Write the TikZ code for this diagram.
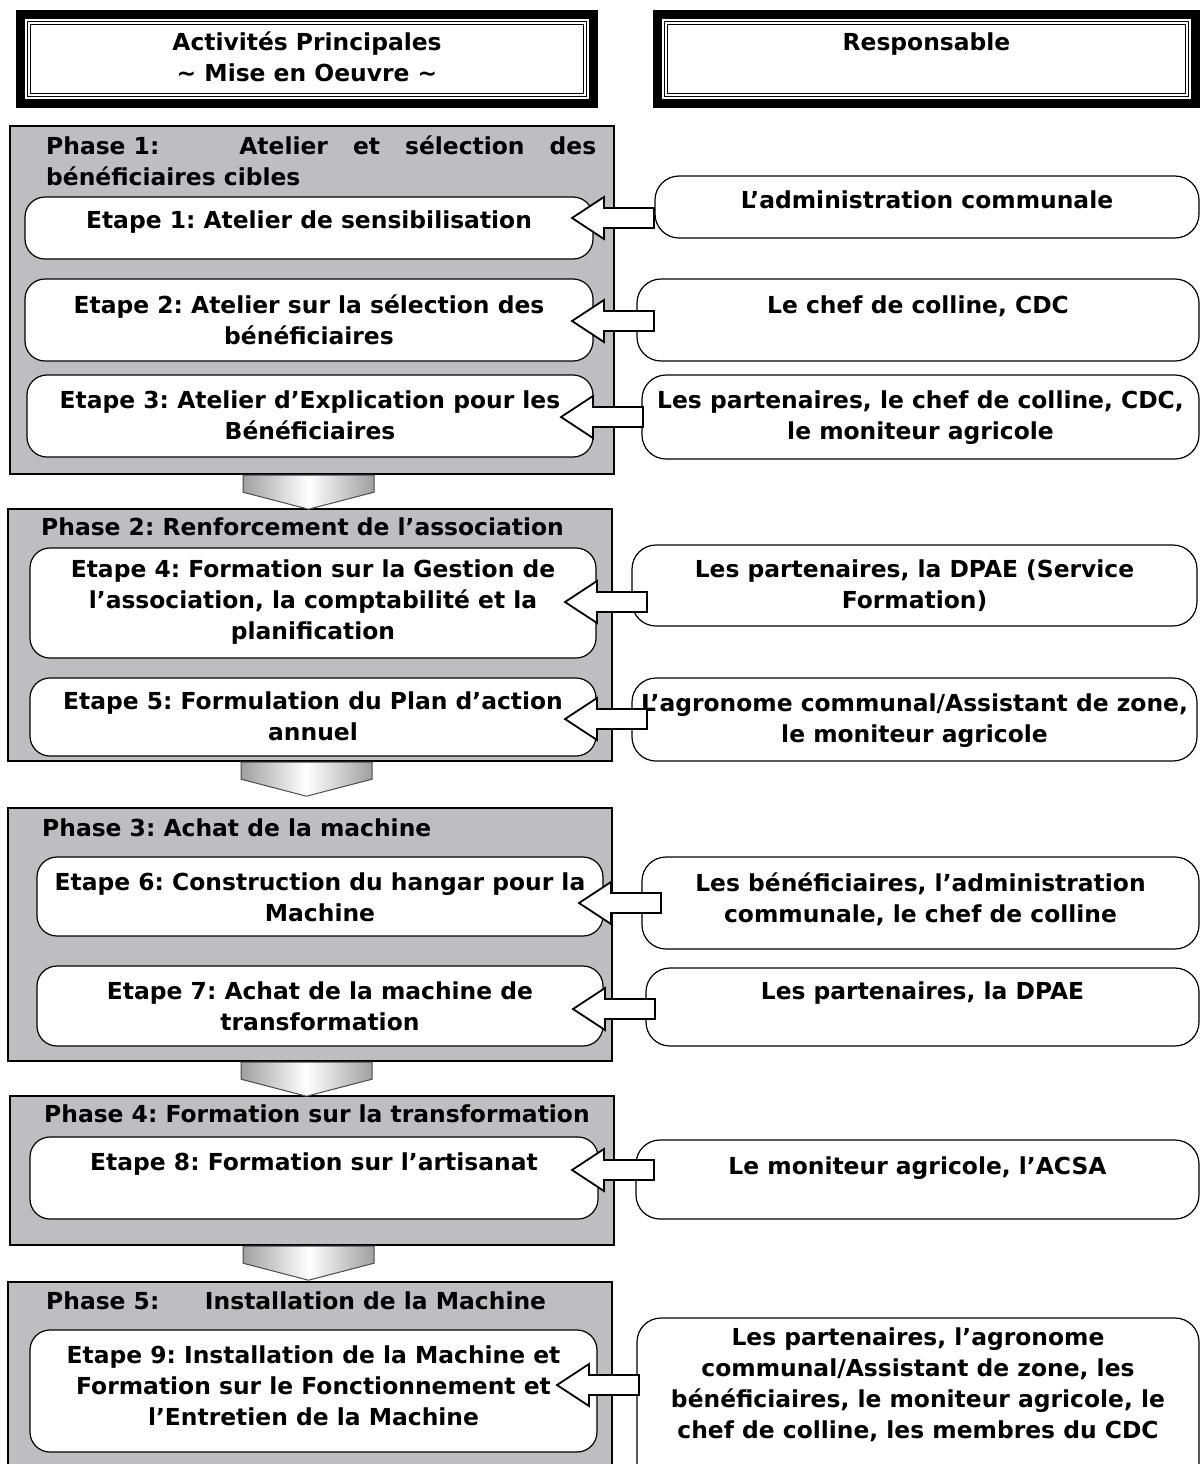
\documentclass[tikz,border=0pt]{standalone}
\usepackage{fontspec}
\setmainfont{DejaVu Sans}
\frenchspacing
\usetikzlibrary{fit,positioning,calc}
\definecolor{fond}{RGB}{190,190,192}
\newcommand{\lig}[1]{\begin{tabular}[t]{@{}c@{}}#1\end{tabular}}
\newcommand{\ligg}[1]{\begin{tabular}[t]{@{}l@{}}#1\end{tabular}}
\newcommand{\fleche}[1]{\draw[bloc] (#1) -- ++(32,-21) -- ++(0,11) -- ++(50,0) -- ++(0,20) -- ++(-50,0) -- ++(0,11) -- cycle;}
\newcommand{\chevron}[1]{\path[chev] ([xshift=-34.5pt]#1.south) -- ++(0,17) -- ++(65.5,17) -- ++(65.5,-17) -- ++(0,-17) -- cycle;}
\tikzset{
  entete/.style={draw, line width=4.5pt, inner sep=0pt},
  filet/.style={double, double distance=1.1pt, line width=0.6pt},
  phase/.style={draw, fill=fond, line width=1.2pt, inner sep=0pt},
  etape/.style={draw, fill=white, rounded corners=10pt, line width=0.6pt, inner sep=0pt},
  resp/.style={draw, fill=white, rounded corners=12pt, line width=0.6pt, inner sep=0pt},
  txt/.style={font=\fontsize{11.7}{15.5}\selectfont\bfseries, inner sep=0pt, anchor=base},
  titre/.style={font=\fontsize{11.7}{15.5}\selectfont\bfseries, inner sep=0pt, anchor=base west},
  bloc/.style={draw, fill=white, line width=0.9pt, line join=miter},
  chev/.style={draw=gray!60!black, line width=0.5pt, left color=gray!75, right color=gray!75, middle color=white},
}
\begin{document}
\begin{tikzpicture}[x=0.5pt, y=-0.5pt]
  \useasboundingbox (0,0) rectangle (1200,1464);
  % en-tetes
  \node[entete, fit={(20.5,14.5) (593.5,103.5)}] (h1) {};
  \node[entete, fit={(657.5,14.5) (1195.5,103.5)}] (h2) {};
  \foreach \h in {h1,h2}
    \draw[filet] ([shift={(13,13)}]\h.north west) rectangle ([shift={(-13,-13)}]\h.south east);
  \node[txt] (h1t) at ([yshift=-20.25pt]h1.north) {\lig{Activités Principales\\\textasciitilde{} Mise en Oeuvre \textasciitilde}};
  \node[txt] (h2t) at ([yshift=-20.25pt]h2.north) {Responsable};

  % phases
  \node[phase, fit={(10,126) (614,474)}] (p1) {};
  \node[phase, fit={(8,509) (612,761)}] (p2) {};
  \node[phase, fit={(8,808) (612,1061)}] (p3) {};
  \node[phase, fit={(10,1096) (614,1245)}] (p4) {};
  \node[phase, fit={(8,1282) (612,1480)}] (p5) {};
  \node[titre] (p1t) at ([xshift=18.5pt,yshift=-14.75pt]p1.north west) {\ligg{\makebox[275pt][s]{\mbox{Phase 1:}\hspace{40pt}Atelier et sélection des}\\bénéficiaires cibles}};
  \node[titre] (p2t) at ([xshift=17pt,yshift=-13.75pt]p2.north west) {Phase 2: Renforcement de l’association};
  \node[titre] (p3t) at ([xshift=17.5pt,yshift=-14.8pt]p3.north west) {Phase 3: Achat de la machine};
  \node[titre] (p4t) at ([xshift=17.5pt,yshift=-13.8pt]p4.north west) {Phase 4: Formation sur la transformation};
  \node[titre] (p5t) at ([xshift=19.5pt,yshift=-14.3pt]p5.north west) {Phase 5:\hspace{1.6em} Installation de la Machine};

  % etapes
  \node[etape, fit={(25,197) (593,259)}] (e1) {};
  \node[etape, fit={(25,279) (593,361)}] (e2) {};
  \node[etape, fit={(27,375) (593,457)}] (e3) {};
  \node[etape, fit={(30,548) (596,658)}] (e4) {};
  \node[etape, fit={(30,678) (596,756)}] (e5) {};
  \node[etape, fit={(37,857) (603,936)}] (e6) {};
  \node[etape, fit={(37,966) (603,1046)}] (e7) {};
  \node[etape, fit={(30,1137) (598,1219)}] (e8) {};
  \node[etape, fit={(30,1330) (597,1452)}] (e9) {};
  \node[txt] (e1t) at ([yshift=-15.8pt]e1.north) {Etape 1: Atelier de sensibilisation};
  \node[txt] (e2t) at ([yshift=-17.3pt]e2.north) {\lig{Etape 2: Atelier sur la sélection des\\bénéficiaires}};
  \node[txt] (e3t) at ([yshift=-16.8pt]e3.north) {\lig{Etape 3: Atelier d’Explication pour les\\Bénéficiaires}};
  \node[txt] (e4t) at ([yshift=-14.8pt]e4.north) {\lig{Etape 4: Formation sur la Gestion de\\l’association, la comptabilité et la\\planification}};
  \node[txt] (e5t) at ([yshift=-15.8pt]e5.north) {\lig{Etape 5: Formulation du Plan d’action\\annuel}};
  \node[txt] (e6t) at ([yshift=-16.8pt]e6.north) {\lig{Etape 6: Construction du hangar pour la\\Machine}};
  \node[txt] (e7t) at ([yshift=-16.8pt]e7.north) {\lig{Etape 7: Achat de la machine de\\transformation}};
  \node[txt] (e8t) at ([yshift=-16.8pt]e8.north) {Etape 8: Formation sur l’artisanat};
  \node[txt] (e9t) at ([yshift=-16.8pt]e9.north) {\lig{Etape 9: Installation de la Machine et\\Formation sur le Fonctionnement et\\l’Entretien de la Machine}};

  % responsables
  \node[resp, fit={(655,176) (1199,238)}] (r1) {};
  \node[resp, fit={(637,279) (1199,361)}] (r2) {};
  \node[resp, fit={(642,375) (1199,459)}] (r3) {};
  \node[resp, fit={(632,545) (1197,626)}] (r4) {};
  \node[resp, fit={(632,678) (1197,761)}] (r5) {};
  \node[resp, fit={(642,857) (1199,949)}] (r6) {};
  \node[resp, fit={(646,968) (1199,1046)}] (r7) {};
  \node[resp, fit={(636,1140) (1199,1219)}] (r8) {};
  \node[resp, fit={(637,1318) (1199,1490)}] (r9) {};
  \node[txt] (r1t) at ([yshift=-16.3pt]r1.north) {L’administration communale};
  \node[txt] (r2t) at ([yshift=-17.3pt]r2.north) {Le chef de colline, CDC};
  \node[txt] (r3t) at ([yshift=-16.8pt]r3.north) {\lig{Les partenaires, le chef de colline, CDC,\\le moniteur agricole}};
  \node[txt] (r4t) at ([yshift=-16.3pt]r4.north) {\lig{Les partenaires, la DPAE (Service\\Formation)}};
  \node[txt] (r5t) at ([yshift=-16.8pt]r5.north) {\lig{L’agronome communal/Assistant de zone,\\le moniteur agricole}};
  \node[txt] (r6t) at ([yshift=-17.3pt]r6.north) {\lig{Les bénéficiaires, l’administration\\communale, le chef de colline}};
  \node[txt] (r7t) at ([yshift=-15.8pt]r7.north) {Les partenaires, la DPAE};
  \node[txt] (r8t) at ([yshift=-17.3pt]r8.north) {Le moniteur agricole, l’ACSA};
  \node[txt] (r9t) at ([yshift=-13.8pt]r9.north) {\lig{Les partenaires, l’agronome\\communal/Assistant de zone, les\\bénéficiaires, le moniteur agricole, le\\chef de colline, les membres du CDC}};

  % fleches responsable -> etape
  \coordinate (f1) at (572,218);
  \coordinate (f2) at (572,321);
  \coordinate (f3) at (561,417);
  \coordinate (f4) at (565,602);
  \coordinate (f5) at (565,719);
  \coordinate (f6) at (579,903);
  \coordinate (f7) at (573,1009);
  \coordinate (f8) at (572,1170);
  \coordinate (f9) at (557,1385);
  \foreach \i in {1,...,9} \fleche{f\i};

  % chevrons entre phases
  \foreach \p in {p1,p2,p3,p4} \chevron{\p};
\end{tikzpicture}
\end{document}
